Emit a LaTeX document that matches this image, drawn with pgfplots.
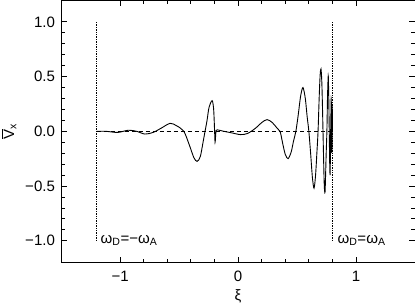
\documentclass[border=0pt]{standalone}
\usepackage{pgfplots}
\pgfplotsset{compat=1.18}
\usepackage{fontspec}
\setmainfont{Liberation Sans}
\begin{document}
\fontsize{15}{18}\selectfont
\begin{tikzpicture}
\begin{axis}[
    at={(0,0)}, anchor=south west,
    scale only axis, width=353pt, height=262pt,
    xmin=-1.5, xmax=1.5, ymin=-1.2, ymax=1.2,
    xtick={-1,0,1}, xticklabels={−1,0,1},
    ytick={-1,-0.5,0,0.5,1}, yticklabels={−1.0,−0.5,0.0,0.5,1.0},
    minor x tick num=4, minor y tick num=4,
    tick align=inside, major tick length=6pt, minor tick length=3.5pt,
    axis line style={line width=0.8pt},
    tick style={line width=0.8pt, black},
    ticklabel style={font=\fontsize{15}{18}\selectfont},
    xticklabel style={yshift=-3pt},
    yticklabel style={xshift=-1pt},
    xlabel={ξ}, ylabel={$\overline{\mathrm{V}}_{\mathrm{x}}$},
    every axis x label/.style={at={(axis description cs:0.5,0)}, anchor=center, yshift=-34pt, font=\fontsize{15}{18}\selectfont},
    every axis y label/.style={at={(axis description cs:0,0.5)}, anchor=center, xshift=-52pt, rotate=90, font=\fontsize{15}{18}\selectfont},
    clip=false,
]
% zero reference
\addplot[black, line width=0.7pt, dash pattern=on 4pt off 3pt] coordinates {(-1.2,0) (0.8,0)};
% resonance positions
\addplot[black, line width=0.7pt, densely dotted] coordinates {(-1.2,-1.0) (-1.2,1.0)};
\addplot[black, line width=0.7pt, densely dotted] coordinates {(0.8,-1.0) (0.8,1.0)};
% velocity profile
\addplot[black, line width=0.9pt, smooth, tension=0.5] coordinates {
(-1.2,0) (-1.12,0.0) (-1.02,-0.01) (-0.93,0.01) (-0.86,0.0) (-0.79,-0.025)
(-0.72,-0.01) (-0.65,0.03) (-0.576,0.073) (-0.52,0.05) (-0.46,0.0)
(-0.415,-0.12) (-0.375,-0.24) (-0.347,-0.275) (-0.32,-0.23) (-0.297,-0.1)
(-0.28,0.0) (-0.263,0.1) (-0.246,0.22) (-0.22,0.28) (-0.207,0.2)
(-0.199,0.0) (-0.195,-0.10) (-0.19,-0.04) (-0.185,0.01) (-0.16,0.01)
(-0.12,0.0) (-0.05,-0.015) (0.02,-0.03) (0.08,-0.02) (0.15,0.03)
(0.2,0.08) (0.246,0.107) (0.29,0.08) (0.33,0.03) (0.356,0.0)
(0.38,-0.12) (0.40,-0.21) (0.424,-0.25) (0.45,-0.19) (0.47,-0.09)
(0.49,0.0) (0.51,0.15) (0.53,0.32) (0.55,0.40) (0.57,0.30)
(0.585,0.14) (0.60,0.0) (0.615,-0.2) (0.63,-0.42) (0.644,-0.52)
(0.657,-0.40) (0.668,-0.2) (0.678,0.0) (0.688,0.32) (0.696,0.52)
(0.703,0.57) (0.71,0.45) (0.716,0.2) (0.72,0.0) (0.726,-0.3)
(0.731,-0.5) (0.737,-0.56) (0.742,-0.4) (0.747,-0.2) (0.753,0.0)
(0.758,0.3) (0.762,0.45) (0.765,0.50) (0.769,0.3) (0.773,0.0)
(0.776,-0.25) (0.78,-0.40) (0.783,-0.2) (0.785,0.0) (0.788,0.2)
(0.79,0.30) (0.792,0.0) (0.794,-0.2) (0.796,0.0) (0.797,0.25)
(0.798,-0.15) (0.799,0.2) (0.8,0.0)
};
\node[anchor=west, inner sep=0pt, xshift=4pt] at (axis cs:-1.2,-1.0) {ω\textsubscript{D}=−ω\textsubscript{A}};
\node[anchor=west, inner sep=0pt, xshift=5pt] at (axis cs:0.8,-1.0) {ω\textsubscript{D}=ω\textsubscript{A}};
\end{axis}
\pgfresetboundingbox
\useasboundingbox (-61pt,-41pt) rectangle (353pt,262pt);
\end{tikzpicture}
\end{document}
